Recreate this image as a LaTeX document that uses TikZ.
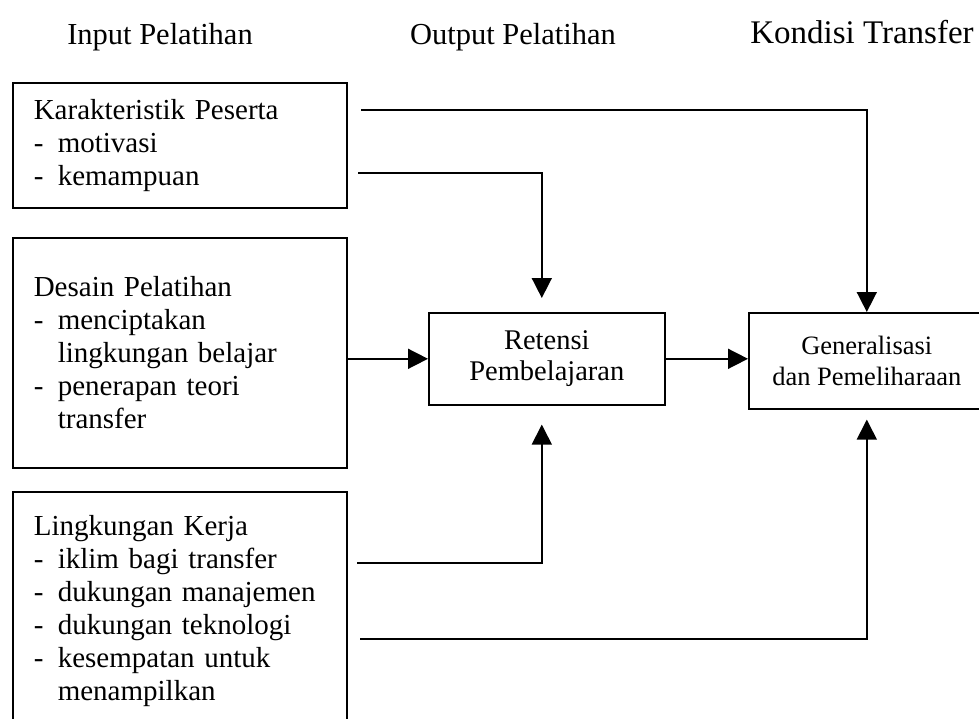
\documentclass[tikz,border=0pt]{standalone}
\usepackage{fontspec}
\setmainfont{Liberation Serif}
\usetikzlibrary{arrows.meta}

\newcommand{\itm}[1]{\makebox[24pt][l]{-}#1}
\newcommand{\cont}[1]{\hspace*{24pt}#1}

\begin{document}
\begin{tikzpicture}[
        x=1pt, y=-1pt,
        every node/.style={font=\fontsize{29}{33}\selectfont},
        header/.style={font=\fontsize{30.5}{33}\selectfont},
        inbox/.style={draw, line width=1.6pt, anchor=north west, align=left,
            text width=292pt, inner xsep=21pt},
        outbox/.style={draw, line width=1.6pt, anchor=north west, align=center,
            minimum width=236pt},
        link/.style={line width=1.6pt, -{Triangle[width=20pt,length=20pt]}}
    ]

    \useasboundingbox (0,0) rectangle (979,718);
    \clip (0,0) rectangle (979,718);

    % =====================================================
    % Column headers
    % =====================================================
    \node[header] (hin) at (160,37) {Input Pelatihan};
    \node[header] (hout) at (513,37) {Output Pelatihan};
    \node[font=\fontsize{33}{36}\selectfont] (hkond) at (862,32) {Kondisi Transfer};

    % =====================================================
    % Input boxes
    % =====================================================
    \node[inbox, minimum height=125pt] (kp) at (12,82)
    {Karakteristik Peserta\\
    \itm{motivasi}\\
    \itm{kemampuan}};

    \node[inbox, minimum height=230pt] (ds) at (12,237)
    {Desain Pelatihan\\
    \itm{menciptakan}\\
    \cont{lingkungan belajar}\\
    \itm{penerapan teori}\\
    \cont{transfer}};

    \node[inbox, minimum height=238pt] (lk) at (12,491)
    {Lingkungan Kerja\\
    \itm{iklim bagi transfer}\\
    \itm{dukungan manajemen}\\
    \itm{dukungan teknologi}\\
    \itm{kesempatan untuk}\\
    \cont{menampilkan}};

    % =====================================================
    % Output and transfer boxes
    % =====================================================
    \node[outbox, minimum height=92pt, font=\fontsize{28.5}{31}\selectfont] (ret) at (428,312)
    {Retensi\\Pembelajaran};

    \node[outbox, minimum height=96pt, font=\fontsize{26.5}{31}\selectfont] (gen) at (748,312)
    {Generalisasi\\dan Pemeliharaan};

    % =====================================================
    % Connectors
    % =====================================================
    \coordinate (kp1) at (361,110);
    \coordinate (kp2) at (358,173);
    \coordinate (lk1) at (357,563);
    \coordinate (lk2) at (360,639);

    \draw[link] (kp1) -| (gen.north);
    \draw[link, shorten >=14pt] (kp2) -| ([xshift=-5pt]ret.north);
    \draw[link] (ds.east |- ret.west) -- (ret.west);
    \draw[link] (ret.east) -- (ret.east -| gen.west);
    \draw[link, shorten >=19pt] (lk1) -| ([xshift=-5pt]ret.south);
    \draw[link, shorten >=10pt] (lk2) -| (gen.south);

\end{tikzpicture}
\end{document}
